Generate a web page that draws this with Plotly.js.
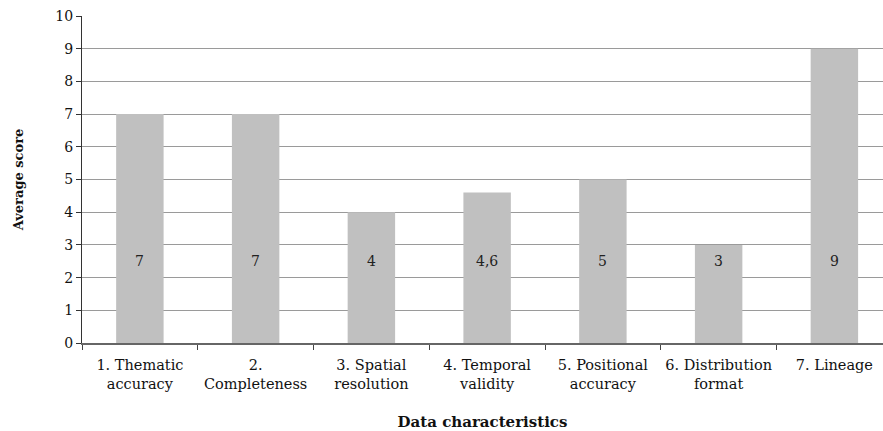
<!DOCTYPE html>
<html>
<head>
<meta charset="utf-8">
<script src="https://cdn.plot.ly/plotly-3.0.1.min.js"></script>
<style>html,body{margin:0;padding:0;background:#fff;overflow:hidden;}</style>
</head>
<body>
<div id="chart" style="width:883px;height:431px;"></div>
<script>
const categories = ["1. Thematic accuracy", "2. Completeness", "3. Spatial resolution", "4. Temporal validity", "5. Positional accuracy", "6. Distribution format", "7. Lineage"];
const tickLabels = ["1. Thematic<br>accuracy", "2.<br>Completeness", "3. Spatial<br>resolution", "4. Temporal<br>validity", "5. Positional<br>accuracy", "6. Distribution<br>format", "7. Lineage"];
const scores = [7, 7, 4, 4.6, 5, 3, 9];
const scoreLabels = ["7", "7", "4", "4,6", "5", "3", "9"];

const serif = "DejaVu Serif";

const trace = {
  type: "bar",
  x: categories,
  y: scores,
  marker: {color: "#c0c0c0", line: {width: 0}},
  hoverinfo: "none"
};

const annotations = categories.map((c, i) => ({
  x: c, y: 2.5, xref: "x", yref: "y",
  text: scoreLabels[i], showarrow: false,
  font: {family: serif, size: 14, color: "#222"}
}));

const layout = {
  width: 883, height: 431,
  margin: {l: 82, r: 0, t: 16, b: 88},
  paper_bgcolor: "#fff", plot_bgcolor: "#fff",
  bargap: 0.59,
  showlegend: false,
  font: {family: serif, size: 14, color: "#111"},
  xaxis: {
    type: "category",
    range: [-0.5, 6.42],
    tickmode: "array",
    tickvals: categories,
    ticktext: tickLabels,
    tickson: "boundaries",
    tickangle: 0,
    ticks: "outside", ticklen: 5, tickcolor: "#444", tickwidth: 1,
    ticklabelstandoff: 8,
    showline: true, linecolor: "#666", linewidth: 1.5,
    showgrid: false, zeroline: false,
    tickfont: {family: serif, size: 14.5, color: "#111"},
    title: {text: "<b>Data characteristics</b>", font: {family: serif, size: 15, color: "#111"}, standoff: 26}
  },
  yaxis: {
    range: [0, 10],
    tickmode: "linear", tick0: 0, dtick: 1,
    ticks: "outside", ticklen: 5, tickcolor: "#333", tickwidth: 1,
    showline: true, linecolor: "#333", linewidth: 1,
    showgrid: true, gridcolor: "#9a9a9a", gridwidth: 1,
    zeroline: false,
    tickfont: {family: serif, size: 14, color: "#111"},
    title: {text: "<b>Average score</b>", font: {family: serif, size: 13, color: "#111"}, standoff: 28}
  },
  annotations: annotations
};

Plotly.newPlot("chart", [trace], layout, {displayModeBar: false, staticPlot: true});
</script>
</body>
</html>
